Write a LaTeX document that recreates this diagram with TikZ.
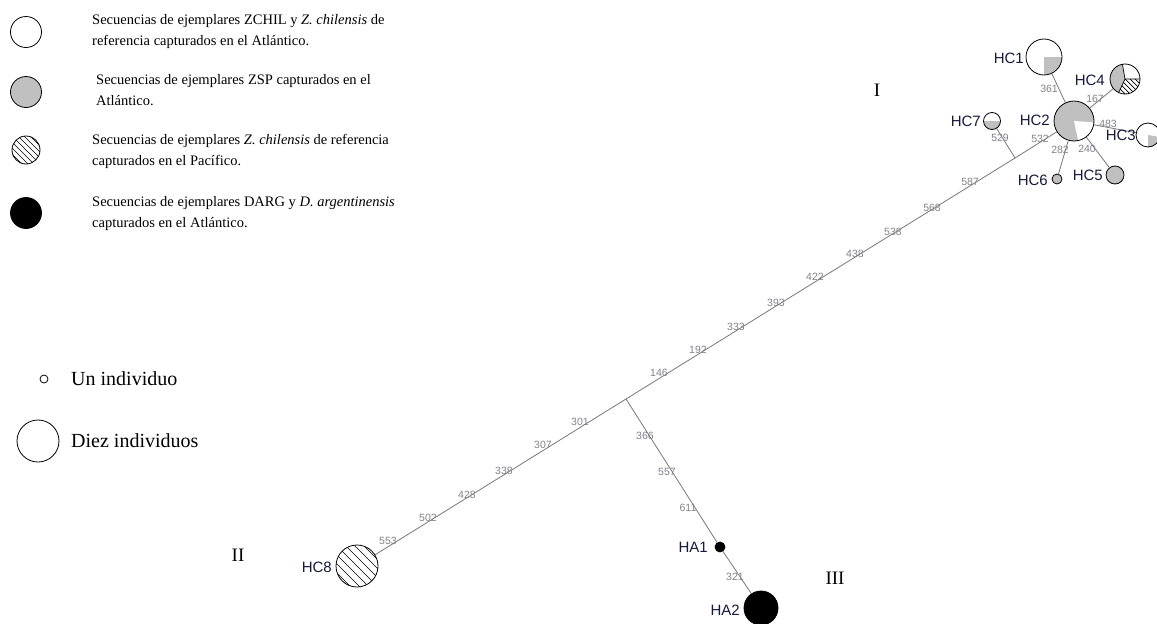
\documentclass[tikz,border=0pt]{standalone}
\usepackage{fontspec}
\setmainfont{Liberation Serif}
\newfontfamily\hapfont{Liberation Sans}
\definecolor{edgegray}{RGB}{120,120,120}
\definecolor{numgray}{RGB}{130,130,140}
\definecolor{hapgray}{RGB}{192,192,192}
\definecolor{labnavy}{RGB}{25,25,60}
\tikzset{
 hap/.style={circle, draw=black, line width=0.8pt, inner sep=0pt, minimum size=#1},
 link/.style={draw=edgegray, line width=0.8pt},
 num/.style={font=\hapfont\fontsize{10.5}{10.5}\selectfont, text=numgray, inner sep=0pt},
 hapname/.style={font=\hapfont\fontsize{15}{15}\selectfont, text=labnavy, inner sep=0pt, anchor=east},
 legtext/.style={font=\fontsize{14.5}{21}\selectfont, align=left, anchor=west, inner sep=0pt},
 sizetext/.style={font=\fontsize{20}{20}\selectfont, anchor=west, inner sep=0pt},
 roman/.style={font=\fontsize{19}{19}\selectfont, inner sep=0pt},
 hatchline/.style={draw=black, line width=0.7pt},
}
\newcommand{\hatchdisc}[4]{% x, y, r, spacing
 \begin{scope}
  \clip (#1,#2) circle (#3pt);
  \foreach \d in {-60,-54,...,60}{
   \draw[hatchline] ({#1+\d*#4/6-40},{#2-40}) -- ({#1+\d*#4/6+40},{#2+40});
  }
 \end{scope}}
\begin{document}
\begin{tikzpicture}[x=1pt,y=-1pt]
\path[use as bounding box, fill=white] (0,0) rectangle (1157,624);

% ---------- legend ----------
\node[hap=31pt] (lg1) at (26,32) {};
\node[legtext] (lt1) at (92,32) {Secuencias de ejemplares ZCHIL y \textit{Z. chilensis} de\\referencia capturados en el Atl\'antico.};
\node[hap=31pt, fill=hapgray] (lg2) at (26,92) {};
\node[legtext] (lt2) at (96,90.5) {Secuencias de ejemplares ZSP capturados en el\\Atl\'antico.};
\hatchdisc{26}{150}{14}{6}
\node[hap=28pt] (lg3) at (26,150) {};
\node[legtext] (lt3) at (92,151.5) {Secuencias de ejemplares \textit{Z. chilensis} de referencia\\capturados en el Pac\'ifico.};
\node[hap=31pt, fill=black] (lg4) at (26,213) {};
\node[legtext] (lt4) at (92,213.5) {Secuencias de ejemplares DARG y \textit{D. argentinensis}\\capturados en el Atl\'antico.};
\node[hap=8pt] (lg5) at (44,379) {};
\node[sizetext] (lt5) at (71,379) {Un individuo};
\node[hap=42pt] (lg6) at (38,441) {};
\node[sizetext] (lt6) at (71,441) {Diez individuos};

% ---------- network: pie fills ----------
\coordinate (c1) at (1044,57);
\coordinate (c2) at (1074,121);
\coordinate (c3) at (1148,135);
\coordinate (c4) at (1125,79);
\coordinate (c5) at (1115,175);
\coordinate (c6) at (1057,179);
\coordinate (c7) at (992,121);
\coordinate (c8) at (357,566);
\coordinate (a1) at (720,547);
\coordinate (a2) at (761,608);

\fill[hapgray] (c1) -- ++(-90:18pt) arc[start angle=-90, end angle=0, radius=18pt] -- cycle;
\fill[hapgray] (c2) circle (20pt);
\fill[white] (c2) -- ++(-78:20pt) arc[start angle=-78, end angle=-4, radius=20pt] -- cycle;
\fill[hapgray] (c3) -- ++(-90:12pt) arc[start angle=-90, end angle=-10, radius=12pt] -- cycle;
\fill[hapgray] (c4) -- ++(100:15pt) arc[start angle=100, end angle=245, radius=15pt] -- cycle;
\begin{scope}
 \clip (c4) -- ++(245:15pt) arc[start angle=245, end angle=360, radius=15pt] -- cycle;
 \hatchdisc{1125}{79}{15}{5}
\end{scope}
\draw[line width=0.7pt] (c4) -- ++(245:15pt) (c4) -- ++(0:15pt) (c4) -- ++(100:15pt);
\fill[hapgray] (c7) -- ++(180:8.5pt) arc[start angle=180, end angle=360, radius=8.5pt] -- cycle;
\hatchdisc{357}{566}{21}{9}

% ---------- network: nodes ----------
\node[hap=36pt] (hc1) at (c1) {};
\node[hap=40pt] (hc2) at (c2) {};
\node[hap=24pt] (hc3) at (c3) {};
\node[hap=30pt] (hc4) at (c4) {};
\node[hap=18pt, fill=hapgray] (hc5) at (c5) {};
\node[hap=10pt, fill=hapgray] (hc6) at (c6) {};
\node[hap=17pt] (hc7) at (c7) {};
\node[hap=42pt] (hc8) at (c8) {};
\node[hap=10pt, fill=black] (ha1) at (a1) {};
\node[hap=34pt, fill=black] (ha2) at (a2) {};
\coordinate (j1) at (1015,158);
\coordinate (j2) at (626,399);

% ---------- connectors ----------
\draw[link] (hc1) -- (hc2);
\draw[link] (hc4) -- (hc2);
\draw[link] (hc3) -- (hc2);
\draw[link] (hc5) -- (hc2);
\draw[link] (hc6) -- (hc2);
\draw[link] (hc2) -- (j1);
\draw[link] (hc7) -- (j1);
\draw[link] (j1) -- (j2);
\draw[link] (j2) -- (hc8);
\draw[link] (j2) -- (ha1);
\draw[link] (ha1) -- (ha2);

% ---------- mutation labels ----------
\node[num] (m361) at (1049,89) {361};
\node[num] (m167) at (1095,99) {167};
\node[num] (m483) at (1108,124) {483};
\node[num] (m282) at (1060,150) {282};
\node[num] (m240) at (1087,149) {240};
\node[num] (m532) at (1040,139) {532};
\node[num] (m529) at (1000,138) {529};
\node[num] (m587) at (970,182) {587};
\node[num] (m568) at (932,208) {568};
\node[num] (m538) at (893,232) {538};
\node[num] (m438) at (855,254) {438};
\node[num] (m422) at (815,277) {422};
\node[num] (m393) at (776,303) {393};
\node[num] (m333) at (736,327) {333};
\node[num] (m192) at (698,350) {192};
\node[num] (m146) at (659,373) {146};
\node[num] (m301) at (580,422) {301};
\node[num] (m307) at (543,445) {307};
\node[num] (m338) at (504,471) {338};
\node[num] (m428) at (467,495) {428};
\node[num] (m502) at (428,518) {502};
\node[num] (m553) at (388,541) {553};
\node[num] (m366) at (645,436) {366};
\node[num] (m557) at (667,472) {557};
\node[num] (m611) at (688,508) {611};
\node[num] (m321) at (735,577) {321};

% ---------- haplotype names ----------
\node[hapname] (t1) at (1024,58) {HC1};
\node[hapname] (t2) at (1050,120) {HC2};
\node[hapname] (t3) at (1136,135) {HC3};
\node[hapname] (t4) at (1105,80) {HC4};
\node[hapname] (t5) at (1103,175) {HC5};
\node[hapname] (t6) at (1048,180) {HC6};
\node[hapname] (t7) at (981,121) {HC7};
\node[hapname] (t8) at (332,567) {HC8};
\node[hapname] (ta1) at (708,547) {HA1};
\node[hapname] (ta2) at (740,610) {HA2};

% ---------- group labels ----------
\node[roman] (gI) at (877,90) {I};
\node[roman] (gII) at (238,555) {II};
\node[roman] (gIII) at (835,578) {III};
\end{tikzpicture}
\end{document}
